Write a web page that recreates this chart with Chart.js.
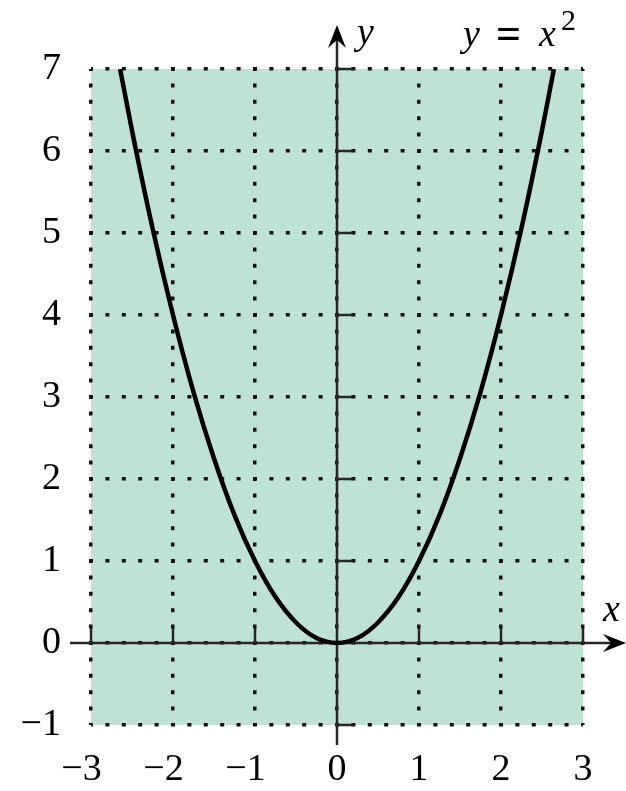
<!DOCTYPE html>
<html>
<head>
<meta charset="utf-8">
<script src="https://cdn.jsdelivr.net/npm/chart.js@4"></script>
<style>
  html, body { margin: 0; padding: 0; background: #fff; }
  #wrap { width: 626px; height: 791px; }
</style>
</head>
<body>
<div id="wrap"><canvas id="parabola"></canvas></div>
<script>
// values: points on y = x^2
const xValues = [-2.645, -2.5, -2.25, -2, -1.75, -1.5, -1.25, -1, -0.75, -0.5, -0.25, 0,
                 0.25, 0.5, 0.75, 1, 1.25, 1.5, 1.75, 2, 2.25, 2.5, 2.645];
const yValues = [7, 6.25, 5.06, 4, 3.06, 2.25, 1.56, 1, 0.56, 0.25, 0.06, 0,
                 0.06, 0.25, 0.56, 1, 1.56, 2.25, 3.06, 4, 5.06, 6.25, 7];
const xRange = [-3, 3];
const yRange = [-1, 7];

const serif = '"Liberation Serif", "DejaVu Serif", serif';

// green panel + axes with arrows and small ticks
const axesPlugin = {
  id: 'axesPlugin',
  beforeDraw(chart) {
    const { ctx, chartArea: a } = chart;
    ctx.save();
    ctx.fillStyle = '#bfe2d4';
    ctx.fillRect(a.left, a.top, a.right - a.left, a.bottom - a.top);
    ctx.restore();
  },
  beforeDatasetsDraw(chart) {
    const { ctx, scales: { x, y } } = chart;
    const x0 = x.getPixelForValue(0);
    const y0 = y.getPixelForValue(0);
    const yBot = y.getPixelForValue(yRange[0]);
    const xLeft = x.getPixelForValue(xRange[0]);
    ctx.save();
    ctx.strokeStyle = '#262626';
    ctx.lineWidth = 2.5;
    ctx.beginPath();
    ctx.moveTo(x0, yBot + 20);
    ctx.lineTo(x0, 36);
    ctx.moveTo(xLeft - 21, y0);
    ctx.lineTo(614, y0);
    // ticks on the axes
    y.ticks.forEach(t => {
      if (t.value === 0) return;
      const p = y.getPixelForValue(t.value);
      ctx.moveTo(x0, p);
      ctx.lineTo(x0 + 16, p);
    });
    x.ticks.forEach(t => {
      if (t.value === 0) return;
      const p = x.getPixelForValue(t.value);
      ctx.moveTo(p, y0);
      ctx.lineTo(p, y0 - 15);
    });
    ctx.stroke();

    // arrowheads
    ctx.fillStyle = '#000';
    ctx.beginPath();
    ctx.moveTo(x0, 25);
    ctx.lineTo(x0 + 9, 48);
    ctx.lineTo(x0, 40);
    ctx.lineTo(x0 - 9, 48);
    ctx.closePath();
    ctx.fill();
    ctx.beginPath();
    ctx.moveTo(626, y0);
    ctx.lineTo(603, y0 - 9);
    ctx.lineTo(611, y0);
    ctx.lineTo(603, y0 + 9);
    ctx.closePath();
    ctx.fill();

    // axis names and curve label
    ctx.fillStyle = '#000';
    ctx.textBaseline = 'alphabetic';
    ctx.textAlign = 'left';
    ctx.font = 'italic 38px ' + serif;
    ctx.fillText('y', x0 + 20, 44);
    ctx.fillText('x', 603, 621);
    ctx.fillText('y', 463, 46);
    ctx.fillText('x', 539, 46);
    ctx.font = 'bold 44px ' + serif;
    ctx.fillText('=', 496, 48);
    ctx.font = '30px ' + serif;
    ctx.fillText('2', 561, 30);
    ctx.restore();
  }
};

// minus sign as in print; pad negatives so the digit sits under the tick
const xTick = v => v < 0 ? '\u2212' + Math.abs(v) + '\u2002' : String(v);
const yTick = v => v < 0 ? '\u2212' + Math.abs(v) : String(v);

new Chart(document.getElementById('parabola'), {
  type: 'line',
  data: {
    datasets: [{
      data: xValues.map((v, i) => ({ x: v, y: yValues[i] })),
      borderColor: '#000',
      borderWidth: 4.5,
      pointRadius: 0,
      fill: false,
      cubicInterpolationMode: 'monotone'
    }]
  },
  options: {
    responsive: true,
    maintainAspectRatio: false,
    animation: false,
    layout: { padding: { top: 69, right: 43, left: 0, bottom: 0 } },
    plugins: { legend: { display: false }, tooltip: { enabled: false } },
    scales: {
      x: {
        type: 'linear',
        min: xRange[0],
        max: xRange[1],
        afterFit: s => { s.height = 66; },
        ticks: {
          stepSize: 1,
          padding: 22,
          color: '#000',
          font: { family: serif, size: 38 },
          callback: xTick
        },
        grid: { color: '#111', lineWidth: 3.5, drawTicks: false },
        border: { display: false, dash: [4, 12.4], dashOffset: 2 }
      },
      y: {
        type: 'linear',
        min: yRange[0],
        max: yRange[1],
        afterFit: s => { s.width = 91; },
        ticks: {
          stepSize: 1,
          padding: 30,
          color: '#000',
          font: { family: serif, size: 38 },
          callback: yTick
        },
        grid: { color: '#111', lineWidth: 3.5, drawTicks: false },
        border: { display: false, dash: [4, 12.4], dashOffset: 2 }
      }
    }
  },
  plugins: [axesPlugin]
});
</script>
</body>
</html>
